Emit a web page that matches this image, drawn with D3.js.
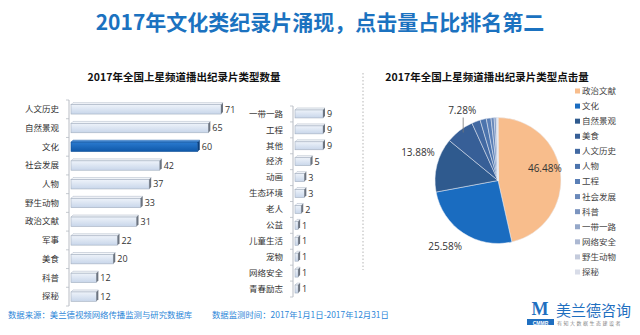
<!DOCTYPE html>
<html><head><meta charset="utf-8">
<script src="https://cdn.jsdelivr.net/npm/d3@7/dist/d3.min.js"></script>
<style>
body{margin:0;background:#fff;}
svg{display:block;font-family:"Noto Sans CJK SC","Noto Sans",sans-serif;}
</style></head><body>
<svg id="c" width="640" height="335"></svg>
<script>
// ---- data ----
const leftCats = ["人文历史","自然景观","文化","社会发展","人物","野生动物","政治文献","军事","美食","科普","探秘"];
const leftVals = [71,65,60,42,37,33,31,22,20,12,12];
const rightCats = ["一带一路","工程","其他","经济","动画","生态环境","老人","公益","儿童生活","宠物","网络安全","青春励志"];
const rightVals = [9,9,9,5,3,3,2,1,1,1,1,1];
const pieCats = ["政治文献","文化","自然景观","美食","人文历史","人物","工程","社会发展","科普","一带一路","网络安全","野生动物","探秘"];
const pieVals = [46.48,25.58,13.88,7.28,2.2,1.6,1.2,0.8,0.5,0.2,0.13,0.1,0.05];
const pieLabels = ["46.48%","25.58%","13.88%","7.28%"];
const pieColors = ["#f8bd8c","#1a6cc0","#2f5a8e","#375f97","#4269a2","#4c74ad","#5a7fb6","#6a89ba","#7b94bf","#95a8c9","#acb8d2","#c4cbdc","#d8dce8"];

const svg = d3.select("#c");
const defs = svg.append("defs");
const g1 = defs.append("linearGradient").attr("id","lg").attr("x1",0).attr("y1",0).attr("x2",0).attr("y2",1);
g1.append("stop").attr("offset","0%").attr("stop-color","#eef3fa");
g1.append("stop").attr("offset","100%").attr("stop-color","#c8d6ea");
const g2 = defs.append("linearGradient").attr("id","bg").attr("x1",0).attr("y1",0).attr("x2",0).attr("y2",1);
g2.append("stop").attr("offset","0%").attr("stop-color","#2a7ad0");
g2.append("stop").attr("offset","100%").attr("stop-color","#0f58a8");

// main title
svg.append("text").attr("x",320).attr("y",30).attr("text-anchor","middle")
  .attr("font-size",21).attr("font-weight","bold").attr("fill","#1b72c0")
  .text("2017年文化类纪录片涌现，点击量占比排名第二");

// sub titles
svg.append("text").attr("x",184).attr("y",81).attr("text-anchor","middle")
  .attr("font-size",10.5).attr("font-weight","bold").attr("fill","#111")
  .text("2017年全国上星频道播出纪录片类型数量");
svg.append("text").attr("x",487).attr("y",81).attr("text-anchor","middle")
  .attr("font-size",10.5).attr("font-weight","bold").attr("fill","#111")
  .text("2017年全国上星频道播出纪录片类型点击量");

function barChart(cats, vals, xRange, yRange, xMax, hlIndex){
  const y = d3.scaleBand().domain(cats).range(yRange).paddingInner(0.5).paddingOuter(0.25);
  const x = d3.scaleLinear().domain([0,xMax]).range(xRange);
  const g = svg.append("g");
  const x0 = xRange[0];
  g.append("line").attr("x1",x0-2).attr("x2",x0-2).attr("y1",yRange[0]).attr("y2",yRange[1])
    .attr("stroke","#b8bcc4").attr("stroke-width",1);
  const step = y.step();
  for(let i=0;i<=cats.length;i++){
    const ty = yRange[0] + (i===0?0:(y(cats[i-1]) + y.bandwidth() + (step - y.bandwidth())/2 - yRange[0]));
    g.append("line").attr("x1",x0-5).attr("x2",x0-2).attr("y1",ty).attr("y2",ty)
      .attr("stroke","#b8bcc4").attr("stroke-width",0.8);
  }
  const yAxis = d3.axisLeft(y).tickSize(0).tickPadding(0);
  const ag = g.append("g").attr("transform",`translate(${x0-12},0)`).call(yAxis);
  ag.select(".domain").remove();
  ag.selectAll("text").attr("font-size",8.5).attr("fill","#333")
    .attr("font-family","Noto Sans CJK SC");
  cats.forEach((c,i)=>{
    const hl = i===hlIndex;
    const by = y(c), bh = y.bandwidth(), bx = x(0), bw = x(vals[i])-x(0);
    g.append("polygon").attr("points",`${bx},${by} ${bx+2},${by-2} ${bx+bw+2},${by-2} ${bx+bw},${by}`)
      .attr("fill", hl ? "#4a8fd8" : "#f4f7fb").attr("stroke", hl?"#1f5fa6":"#a9b3c2").attr("stroke-width",0.5);
    g.append("rect").attr("x",bx).attr("y",by).attr("width",bw).attr("height",bh)
      .attr("fill", hl ? "url(#bg)" : "url(#lg)")
      .attr("stroke", hl ? "#0d4f98" : "#a3afbf").attr("stroke-width",0.6);
    g.append("polygon").attr("points",`${bx+bw},${by} ${bx+bw+2},${by-2} ${bx+bw+2},${by+bh-2} ${bx+bw},${by+bh}`)
      .attr("fill", hl ? "#0b3f7c" : "#6c7480");
    g.append("text").attr("x",x(vals[i])+4).attr("y",by+bh/2).attr("dy","0.35em")
      .attr("font-size",9).attr("fill","#333").attr("font-family","Open Sans, Noto Sans")
      .text(vals[i]);
  });
}
barChart(leftCats,leftVals,[71,221],[100,306],71,2);
barChart(rightCats,rightVals,[295,323],[106,297],9,-1);

// separator
svg.append("line").attr("x1",363).attr("x2",363).attr("y1",73).attr("y2",270)
  .attr("stroke","#b5b5b5").attr("stroke-width",1).attr("stroke-dasharray","1.5,2");

// pie
const cx=498, cy=180.5, R=63;
const pie = d3.pie().sort(null).value(d=>d)(pieVals);
const arc = d3.arc().innerRadius(0).outerRadius(R);
const pg = svg.append("g").attr("transform",`translate(${cx},${cy})`);
pg.selectAll("path").data(pie).join("path").attr("d",arc)
  .attr("fill",(d,i)=>pieColors[i]).attr("stroke","#e8edf5").attr("stroke-width",0.5);

const lblArc = d3.arc().innerRadius(R*0.62).outerRadius(R*0.62);
const c0 = lblArc.centroid(pie[0]);
pg.append("text").attr("x",c0[0]+8).attr("y",c0[1]-8).attr("dy","0.35em").attr("text-anchor","middle")
  .attr("font-size",10).attr("fill","#333").attr("font-family","Open Sans").text(pieLabels[0]);
const outArc = d3.arc().innerRadius(R*1.18).outerRadius(R*1.18);
const c1 = outArc.centroid(pie[1]);
pg.append("text").attr("x",c1[0]-12).attr("y",c1[1]+4).attr("dy","0.35em").attr("text-anchor","middle")
  .attr("font-size",10).attr("fill","#333").attr("font-family","Open Sans").text(pieLabels[1]);
const c2 = outArc.centroid(pie[2]);
pg.append("text").attr("x",c2[0]-8).attr("y",c2[1]-10).attr("dy","0.35em").attr("text-anchor","middle")
  .attr("font-size",10).attr("fill","#333").attr("font-family","Open Sans").text(pieLabels[2]);
const edge3 = d3.arc().innerRadius(R*0.96).outerRadius(R*0.96).centroid(pie[3]);
pg.append("line").attr("x1",edge3[0]+2).attr("y1",edge3[1]).attr("x2",edge3[0]+2).attr("y2",edge3[1]-15)
  .attr("stroke","#777").attr("stroke-width",0.8);
pg.append("text").attr("x",edge3[0]+1).attr("y",edge3[1]-22).attr("dy","0.35em").attr("text-anchor","middle")
  .attr("font-size",10).attr("fill","#333").attr("font-family","Open Sans").text(pieLabels[3]);

// legend
const ly = d3.scalePoint().domain(pieCats).range([91,272]);
const lg = svg.append("g");
pieCats.forEach((c,i)=>{
  lg.append("rect").attr("x",575).attr("y",ly(c)-2.5).attr("width",5).attr("height",5).attr("fill",pieColors[i]);
  lg.append("text").attr("x",582).attr("y",ly(c)).attr("dy","0.35em").attr("font-size",8.5).attr("fill","#444").text(c);
});

// footer
svg.append("text").attr("x",8).attr("y",318).attr("font-size",8.4).attr("fill","#2c86d8")
  .text("数据来源：美兰德视频网络传播监测与研究数据库");
svg.append("text").attr("x",212).attr("y",318).attr("font-size",8.4).attr("fill","#2c86d8")
  .text("数据监测时间：2017年1月1日-2017年12月31日");

// logo
const logo = svg.append("g");
logo.append("text").attr("x",540).attr("y",315).attr("text-anchor","middle").attr("font-size",18)
  .attr("font-weight","bold").attr("fill","#1f6fc0").attr("font-family","Liberation Serif").text("M");
logo.append("rect").attr("x",527).attr("y",319).attr("width",27).attr("height",6).attr("fill","#1f6fc0");
logo.append("text").attr("x",540.5).attr("y",324.5).attr("text-anchor","middle").attr("font-size",5)
  .attr("font-weight","bold").attr("fill","#fff").attr("font-family","Liberation Sans").text("CMMR");
logo.append("text").attr("x",556).attr("y",316).attr("font-size",15).attr("fill","#1f6fc0").text("美兰德咨询");
logo.append("text").attr("x",557).attr("y",325).attr("font-size",5).attr("fill","#888").attr("letter-spacing",1.5).text("有知大数据生态建设者");
</script>
</body></html>
